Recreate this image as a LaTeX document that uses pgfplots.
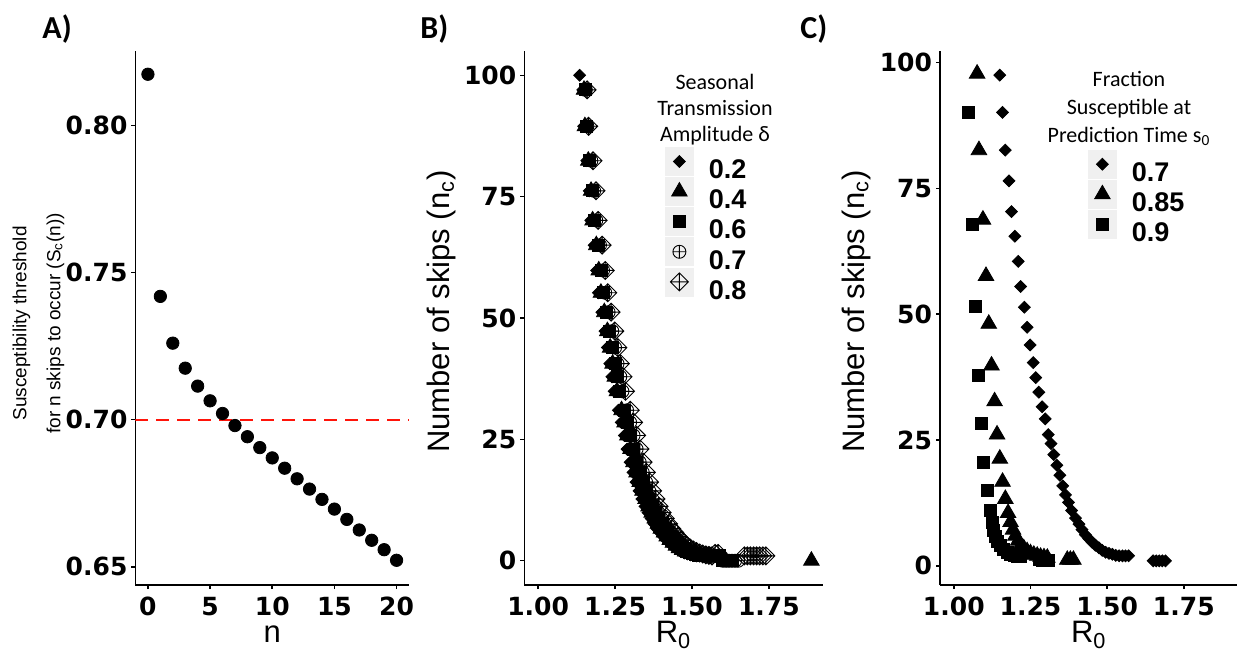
\documentclass[border=0pt]{standalone}
\usepackage{fontspec}
\setmainfont{Liberation Sans}
\newfontfamily\tickfont{DejaVu Sans}
\newfontfamily\calib{Carlito}
\usepackage{pgfplots}
\pgfplotsset{compat=1.18}
\definecolor{ggred}{RGB}{255,20,10}

% open diamond with a cross inside (ggplot shape 9)
\pgfdeclareplotmark{dplus}{%
  \pgfpathmoveto{\pgfqpoint{0pt}{\pgfplotmarksize}}%
  \pgfpathlineto{\pgfqpoint{\pgfplotmarksize}{0pt}}%
  \pgfpathlineto{\pgfqpoint{0pt}{-\pgfplotmarksize}}%
  \pgfpathlineto{\pgfqpoint{-\pgfplotmarksize}{0pt}}%
  \pgfpathclose
  \pgfpathmoveto{\pgfqpoint{0pt}{\pgfplotmarksize}}%
  \pgfpathlineto{\pgfqpoint{0pt}{-\pgfplotmarksize}}%
  \pgfpathmoveto{\pgfqpoint{\pgfplotmarksize}{0pt}}%
  \pgfpathlineto{\pgfqpoint{-\pgfplotmarksize}{0pt}}%
  \pgfusepathqstroke
}

\pgfplotsset{
  panel/.style={
    scale only axis, height=267pt,
    axis lines=left, axis line style={-, line width=0.75pt},
    tick style={black, line width=0.75pt},
    tick align=outside, major tick length=2pt,
    /pgf/number format/assume math mode=true,
    tick label style={font=\tickfont\bfseries\fontsize{12.5}{12.5}\selectfont},
    xticklabel style={anchor=base, yshift=-13pt},
    yticklabel style={xshift=1.5pt},
    label style={font=\fontsize{15.5}{15.5}\selectfont},
    xlabel style={at={(axis description cs:0.5,-0.1086)}, anchor=base},
  },
  skips/.style={
    panel, ymin=-5, ymax=105, ytick={0,25,50,75,100},
    xmin=0.955, xmax=1.925, xtick={1,1.25,1.5,1.75},
    xticklabel style={/pgf/number format/.cd, fixed, fixed zerofill, precision=2},
    xlabel={R\textsubscript{0}},
    ylabel={Number of skips (n\textsubscript{c})},
    legend style={draw=none, fill=none, inner sep=0pt, outer sep=0pt,
      row sep=-2.25pt, column sep=7.5pt, anchor=north west,
      font=\bfseries\fontsize{13.5}{13.5}\selectfont,
      nodes={inner sep=0pt}},
    legend cell align=left,
    legend image code/.code={
      \fill[black!6] (-7pt,-2.35pt) rectangle (7pt,11.65pt);
      \draw[##1] plot coordinates {(0pt,4.65pt)};
    },
  },
  dia/.style={only marks, mark=square*, mark size=2.1pt, mark options={rotate=45, fill=black, draw=black}},
  tri/.style={only marks, mark=triangle*, mark size=4.5pt, mark options={fill=black, draw=black}},
  sqr/.style={only marks, mark=square*, mark size=3pt, mark options={fill=black, draw=black}},
  opl/.style={only marks, mark=oplus, mark size=3.25pt, mark options={draw=black, fill=white, line width=0.45pt}},
  dpl/.style={only marks, mark=dplus, mark size=4.5pt, mark options={draw=black, line width=0.45pt}},
}

\begin{document}
\begin{tikzpicture}
\useasboundingbox (0,0) rectangle (619pt,325pt);

% ---------------- A) ----------------
\begin{axis}[panel, at={(67.75pt,32.5pt)}, anchor=south west, width=136.75pt,
  xmin=-1, xmax=21, xtick={0,5,10,15,20},
  ymin=0.6438, ymax=0.8253, ytick={0.65,0.70,0.75,0.80},
  yticklabel style={/pgf/number format/.cd, fixed, fixed zerofill, precision=2},
  xlabel={n},
  ylabel={Susceptibility threshold\\for n skips to occur (S\textsubscript{c}(n))},
  ylabel style={align=center, font=\fontsize{9.5}{17}\selectfont,
    at={(axis description cs:-0.355,0.49)}, anchor=center},
]
\addplot[ggred, line width=0.9pt, dash pattern=on 6.5pt off 4pt] coordinates {(-1,0.70) (21,0.70)};
\addplot[only marks, mark=*, mark size=3.1pt, black] coordinates {
  (0,0.8174) (1,0.7419) (2,0.7260) (3,0.7175) (4,0.7114) (5,0.7064)
  (6,0.7021) (7,0.6980) (8,0.6942) (9,0.6905) (10,0.6870) (11,0.6835)
  (12,0.6799) (13,0.6764) (14,0.6729) (15,0.6696) (16,0.6661) (17,0.6625)
  (18,0.6590) (19,0.6558) (20,0.6522)
};
\end{axis}

% ---------------- B) ----------------
\begin{axis}[skips, at={(262.15pt,32.5pt)}, anchor=south west, width=149.25pt,
  ylabel style={at={(axis description cs:-0.277,0.512)}, anchor=center},
  legend style={at={(0.4714,0.8202)}},
]
% delta = 0.2
\addplot[dia] coordinates {
  (1.135,100) (1.145,97) (1.148,89.5) (1.158,82.4) (1.166,76.2) (1.171,70.1)
  (1.182,65) (1.190,59.8) (1.196,55.2) (1.207,51.2) (1.217,47.3) (1.225,43.9)
  (1.233,40.6) (1.240,37.9) (1.247,34.9) (1.261,31) (1.270,28.5) (1.280,25.8)
  (1.289,23) (1.299,20.3) (1.308,18.2) (1.318,16.2) (1.328,14.4) (1.337,12.7)
  (1.347,11.2) (1.357,9.9) (1.367,8.7) (1.376,7.6) (1.386,6.6) (1.396,5.8)
  (1.406,5.0) (1.416,4.3) (1.426,3.7) (1.436,3.1) (1.446,2.6) (1.455,2.2)
  (1.465,1.9) (1.475,1.6) (1.485,1.4) (1.495,1.2) (1.505,1.1) (1.515,1)
  (1.525,1) (1.535,1)
};
\addlegendentry{0.2}
% delta = 0.4
\addplot[tri] coordinates {
  (1.149,97) (1.152,89.5) (1.163,82.4) (1.172,76.2) (1.177,70.1) (1.189,65)
  (1.197,59.8) (1.204,55.2) (1.215,51.2) (1.225,47.3) (1.234,43.9) (1.242,40.6)
  (1.249,37.9) (1.256,34.9) (1.271,31) (1.281,28.5) (1.290,25.8) (1.300,23)
  (1.310,20.3) (1.320,18.2) (1.330,16.2) (1.339,14.4) (1.349,12.7) (1.359,11.2)
  (1.369,9.9) (1.379,8.7) (1.389,7.6) (1.399,6.6) (1.409,5.8) (1.418,5.0)
  (1.428,4.3) (1.438,3.7) (1.448,3.1) (1.458,2.6) (1.468,2.2) (1.478,1.9)
  (1.488,1.6) (1.498,1.4) (1.508,1.2) (1.518,1.1) (1.528,1) (1.538,1)
  (1.548,1) (1.558,1) (1.888,0)
};
\addlegendentry{0.4}
% delta = 0.6
\addplot[sqr] coordinates {
  (1.152,97) (1.156,89.5) (1.168,82.4) (1.177,76.2) (1.183,70.1) (1.195,65)
  (1.204,59.8) (1.211,55.2) (1.222,51.2) (1.233,47.3) (1.242,43.9) (1.250,40.6)
  (1.258,37.9) (1.265,34.9) (1.280,31) (1.290,28.5) (1.300,25.8) (1.310,23)
  (1.320,20.3) (1.330,18.2) (1.340,16.2) (1.350,14.4) (1.360,12.7) (1.370,11.2)
  (1.380,9.9) (1.390,8.7) (1.400,7.6) (1.410,6.6) (1.420,5.8) (1.430,5.0)
  (1.440,4.3) (1.450,3.7) (1.460,3.1) (1.470,2.6) (1.480,2.2) (1.490,1.9)
  (1.500,1.6) (1.510,1.4) (1.520,1.2) (1.530,1.1) (1.540,1) (1.550,1)
  (1.560,1) (1.570,1) (1.580,1) (1.590,1) (1.600,0) (1.610,0) (1.620,0) (1.630,0)
};
\addlegendentry{0.6}
% delta = 0.7
\addplot[opl] coordinates {
  (1.155,97) (1.160,89.5) (1.173,82.4) (1.182,76.2) (1.189,70.1) (1.201,65)
  (1.211,59.8) (1.218,55.2) (1.229,51.2) (1.241,47.3) (1.250,43.9) (1.258,40.6)
  (1.267,37.9) (1.274,34.9) (1.289,31) (1.299,28.5) (1.310,25.8) (1.320,23)
  (1.330,20.3) (1.340,18.2) (1.351,16.2) (1.361,14.4) (1.371,12.7) (1.381,11.2)
  (1.391,9.9) (1.401,8.7) (1.411,7.6) (1.421,6.6) (1.432,5.8) (1.442,5.0)
  (1.452,4.3) (1.462,3.7) (1.472,3.1) (1.482,2.6) (1.492,2.2) (1.502,1.9)
  (1.512,1.6) (1.522,1.4) (1.532,1.2) (1.542,1.1) (1.552,1) (1.562,1)
  (1.572,1) (1.582,1) (1.600,0) (1.610,0) (1.620,0) (1.630,0) (1.640,0) (1.650,0)
};
\addlegendentry{0.7}
% delta = 0.8
\addplot[dpl] coordinates {
  (1.159,97) (1.164,89.5) (1.178,82.4) (1.188,76.2) (1.195,70.1) (1.208,65)
  (1.218,59.8) (1.226,55.2) (1.237,51.2) (1.249,47.3) (1.259,43.9) (1.267,40.6)
  (1.276,37.9) (1.284,34.9) (1.299,31) (1.310,28.5) (1.320,25.8) (1.331,23)
  (1.341,20.3) (1.352,18.2) (1.362,16.2) (1.372,14.4) (1.383,12.7) (1.393,11.2)
  (1.403,9.9) (1.413,8.7) (1.424,7.6) (1.434,6.6) (1.444,5.8) (1.454,5.0)
  (1.464,4.3) (1.474,3.7) (1.484,3.1) (1.495,2.6) (1.505,2.2) (1.515,1.9)
  (1.525,1.6) (1.535,1.4) (1.545,1.2) (1.555,1.1) (1.565,1) (1.575,1.5)
  (1.585,1.5) (1.670,1) (1.680,1) (1.690,1) (1.700,1) (1.710,1) (1.720,1)
  (1.730,1) (1.740,1)
};
\addlegendentry{0.8}
\end{axis}

% ---------------- C) ----------------
\begin{axis}[skips, at={(470pt,32.5pt)}, anchor=south west, width=148.75pt,
  ymin=-3.8, ymax=102.3,
  ylabel style={at={(axis description cs:-0.282,0.512)}, anchor=center},
  legend style={at={(0.4975,0.8150)}},
]
% s0 = 0.7
\addplot[dia] coordinates {
  (1.150,97.5) (1.159,90.1) (1.168,82.6) (1.180,76.5) (1.188,70.4) (1.199,65.5)
  (1.210,60.5) (1.218,55.5) (1.230,51.4) (1.239,47.4) (1.249,43.9) (1.259,40.4)
  (1.267,37.4) (1.277,34.5) (1.288,31.6) (1.298,29.2) (1.308,26.1) (1.317,24.3)
  (1.326,22.1) (1.336,20.0) (1.346,18.0) (1.355,15.9) (1.364,14.1) (1.374,12.6)
  (1.384,11.0) (1.397,9.5) (1.408,8.3) (1.418,7.2) (1.429,6.2) (1.440,5.4)
  (1.451,4.7) (1.462,4.1) (1.473,3.6) (1.484,3.1) (1.495,2.7) (1.506,2.5)
  (1.517,2.3) (1.528,2.1) (1.539,2.0) (1.550,2.0) (1.560,2.0) (1.570,2.0)
  (1.650,1) (1.660,1) (1.670,1) (1.680,1) (1.690,1)
};
\addlegendentry{0.7}
% s0 = 0.85
\addplot[tri] coordinates {
  (1.076,97.8) (1.082,82.6) (1.095,68.8) (1.105,57.6) (1.114,48.1) (1.123,39.8)
  (1.133,32.7) (1.141,26.1) (1.150,21.3) (1.159,16.7) (1.168,13.3) (1.177,10.5)
  (1.185,8.7) (1.193,7.2) (1.201,6.0) (1.210,5.0) (1.218,4.1) (1.228,3.5)
  (1.239,2.9) (1.250,2.5) (1.261,2.2) (1.272,2.0) (1.283,1.8) (1.294,1.7)
  (1.305,1.6) (1.370,1.2) (1.380,1.2) (1.390,1.2)
};
\addlegendentry{0.85}
% s0 = 0.9
\addplot[sqr] coordinates {
  (1.049,90.1) (1.060,67.9) (1.071,51.5) (1.079,37.9) (1.090,28.4) (1.098,20.5)
  (1.109,14.9) (1.120,11.0) (1.125,8.7) (1.130,7.0) (1.136,5.8) (1.143,4.8)
  (1.152,4.0) (1.163,3.3) (1.174,2.7) (1.185,2.3) (1.196,2.0) (1.207,1.9)
  (1.217,1.8) (1.280,1.2) (1.290,1.1) (1.300,1.1) (1.310,1.1)
};
\addlegendentry{0.9}
\end{axis}

% panel tags
\node[anchor=base west, inner sep=0pt, font=\calib\bfseries\fontsize{16}{16}\selectfont] at (21pt,305.5pt) {A)};
\node[anchor=base west, inner sep=0pt, font=\calib\bfseries\fontsize{16}{16}\selectfont] at (210pt,305.5pt) {B)};
\node[anchor=base west, inner sep=0pt, font=\calib\bfseries\fontsize{16}{16}\selectfont] at (400pt,305.5pt) {C)};

% legend titles
\begin{scope}[every node/.style={anchor=base, inner sep=0pt, font=\calib\fontsize{11}{11}\selectfont}]
\node at (357.5pt,280.5pt) {Seasonal};
\node at (357.5pt,267.5pt) {Transmission};
\node at (357.5pt,254.5pt) {Amplitude δ};
\node at (564.5pt,282pt) {Fraction};
\node at (564.5pt,268pt) {Susceptible at};
\node at (564.5pt,254pt) {Prediction Time s\textsubscript{0}};
\end{scope}
\end{tikzpicture}
\end{document}
